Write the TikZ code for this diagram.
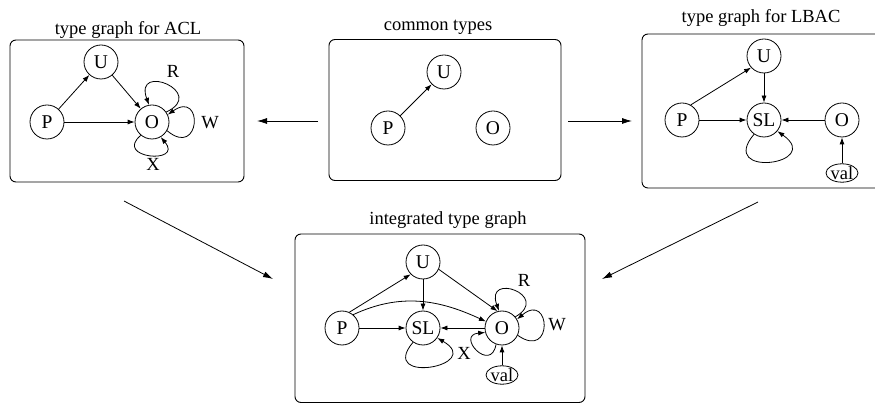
\documentclass[tikz,border=0pt]{standalone}
\usepackage{fontspec}
\setmainfont{Liberation Serif}
\usetikzlibrary{arrows.meta,shapes.geometric}

\tikzset{
  tnode/.style={circle,draw,line width=0.8pt,minimum size=34pt,inner sep=0pt,font=\fontsize{19.5}{22}\selectfont},
  vnode/.style={ellipse,draw,line width=0.8pt,inner sep=0pt,minimum width=32pt,minimum height=17pt},
  frame/.style={draw,line width=0.9pt,rounded corners=6pt},
  title/.style={anchor=base},
  lbl/.style={inner sep=0pt},
  arr/.style={line width=0.8pt,-{Latex[length=7pt,width=5pt]}},
  bigarr/.style={line width=0.8pt,-{Latex[length=10pt,width=6pt]}},
}
% self loop on node #1, leaving at angle #2, returning at angle #3,
% handle length #4, handles turned outwards by #5 degrees
\newcommand\selfloop[5]{\draw[arr] (#1.#2) .. controls +(#2-#5:#4) and +(#3+#5:#4) .. (#1.#3);}

\begin{document}
\begin{tikzpicture}[x=1pt,y=1pt,font=\fontsize{18.5}{22}\selectfont]
\useasboundingbox (0,0) rectangle (875,404);
\clip (0,0) rectangle (875,404);

% ---------- access control list ----------
\node[title] (t1) at (128,369) {type graph for ACL};
\draw[frame] (10,364) rectangle (244,222);
\coordinate (b1r) at (257,283);
\node[tnode] (aU) at (101,342) {U};
\node[tnode] (aP) at (47,282) {P};
\node[tnode] (aO) at (152,282) {O};
\draw[arr] (aP) -- (aU);
\draw[arr] (aU) -- (aO);
\draw[arr] (aP) -- (aO);
\selfloop{aO}{35}{100}{46pt}{10}
\selfloop{aO}{-30}{25}{44pt}{10}
\selfloop{aO}{-130}{-60}{36pt}{10}
\node[lbl] (aR) at (173,333) {R};
\node[lbl] (aW) at (210,281) {W};
\node[lbl] (aX) at (153,240) {X};

% ---------- shared types ----------
\node[title] (t2) at (438,373) {common types};
\draw[frame] (329,364.5) rectangle (561,223.5);
\coordinate (b2l) at (318,283);
\coordinate (b2r) at (568,283);
\node[tnode] (cU) at (444,332) {U};
\node[tnode] (cP) at (388,276) {P};
\node[tnode] (cO) at (493,276) {O};
\draw[arr] (cP) -- (cU);

% ---------- lattice based access control ----------
\node[title] (t3) at (761,381) {type graph for LBAC};
\draw[frame] (642,370) rectangle (890,216);
\coordinate (b3l) at (632,283);
\node[tnode] (lU) at (764,348) {U};
\node[tnode] (lP) at (682,284) {P};
\node[tnode] (lS) at (764,284) {SL};
\node[tnode] (lO) at (842,284) {O};
\node[vnode] (lV) at (842,231) {val};
\draw[arr] (lP.60) -- (lU.222);
\draw[arr] (lU) -- (lS);
\draw[arr] (lP) -- (lS);
\draw[arr] (lO) -- (lS);
\draw[arr] (lV) -- (lO);
\selfloop{lS}{-125}{-40}{58pt}{5}

% ---------- combined graph ----------
\node[title] (t4) at (448,179) {integrated type graph};
\draw[frame] (295,170) rectangle (585,1.5);
\node[tnode] (iU) at (423,142) {U};
\node[tnode] (iP) at (342,76) {P};
\node[tnode] (iS) at (423,76) {SL};
\node[tnode] (iO) at (502,76) {O};
\node[vnode] (iV) at (502,29) {val};
\draw[arr] (iP.65) -- (iU.225);
\draw[arr] (iU) -- (iS);
\draw[arr] (iU.-25) -- (iO.105);
\draw[arr] (iP.50) to[out=25,in=155] (iO.158);
\draw[arr] (iP) -- (iS);
\draw[arr] (iO) -- (iS);
\draw[arr] (iV) -- (iO);
\selfloop{iS}{-125}{-35}{56pt}{5}
\selfloop{iO}{40}{100}{42pt}{10}
\selfloop{iO}{-25}{30}{44pt}{10}
\selfloop{iO}{-110}{-165}{30pt}{-10}
\node[lbl] (iR) at (524,124) {R};
\node[lbl] (iW) at (557,79) {W};
\node[lbl] (iX) at (464,51) {X};

% ---------- arrows between the graphs ----------
\coordinate (d1s) at (124,203);
\coordinate (d1e) at (273,125);
\coordinate (d2s) at (758,202);
\coordinate (d2e) at (602,125);
\draw[bigarr] (b2l) -- (b1r);
\draw[bigarr] (b2r) -- (b3l);
\draw[bigarr] (d1s) -- (d1e);
\draw[bigarr] (d2s) -- (d2e);
\end{tikzpicture}
\end{document}
